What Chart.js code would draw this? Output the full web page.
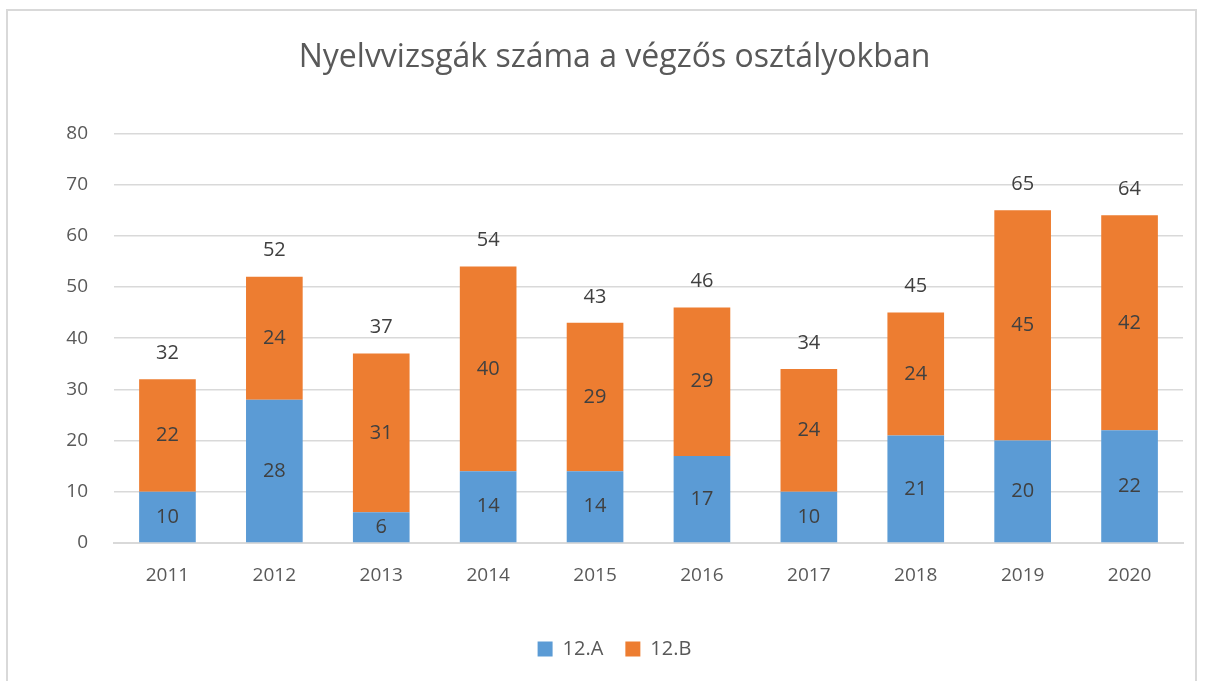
<!DOCTYPE html>
<html>
<head>
<meta charset="utf-8">
<script src="https://cdn.jsdelivr.net/npm/chart.js@4/dist/chart.umd.min.js"></script>
<style>
  html, body { margin: 0; padding: 0; background: #fff; }
  #wrap { position: relative; width: 1206px; height: 681px; overflow: hidden; }
  #frame { position: absolute; left: 6px; top: 9px; width: 1191px; height: 700px; border: 2px solid #d9d9d9; box-sizing: border-box; }
  canvas { position: absolute; left: 0; top: 0; }
</style>
</head>
<body>
<div id="wrap">
  <div id="frame"></div>
  <canvas id="chart" width="1206" height="681"></canvas>
</div>
<script>
const years = ['2011', '2012', '2013', '2014', '2015', '2016', '2017', '2018', '2019', '2020'];
const classA = [10, 28, 6, 14, 14, 17, 10, 21, 20, 22];
const classB = [22, 24, 31, 40, 29, 29, 24, 24, 45, 42];
const totals = years.map((y, i) => classA[i] + classB[i]);

const fontFamily = "'Open Sans', 'Liberation Sans', sans-serif";

// feliratok a szegmenseken és az összeg az oszlop tetején
const labelPlugin = {
    id: 'barLabels',
    afterDatasetsDraw(chart) {
        const ctx = chart.ctx;
        ctx.save();
        ctx.font = '20px ' + fontFamily;
        ctx.fillStyle = '#404040';
        ctx.textAlign = 'center';
        ctx.textBaseline = 'middle';
        chart.data.datasets.forEach((ds, di) => {
            const meta = chart.getDatasetMeta(di);
            meta.data.forEach((bar, i) => {
                ctx.fillText(String(ds.data[i]), bar.x, (bar.y + bar.base) / 2);
            });
        });
        const top = chart.getDatasetMeta(chart.data.datasets.length - 1);
        top.data.forEach((bar, i) => {
            ctx.fillText(String(totals[i]), bar.x, bar.y - 26);
        });
        ctx.restore();
    }
};

new Chart(document.getElementById('chart').getContext('2d'), {
    type: 'bar',
    data: {
        labels: years,
        datasets: [{
            label: '12.A',
            data: classA,
            backgroundColor: '#5b9bd5',
            barPercentage: 0.53,
            categoryPercentage: 1,
        }, {
            label: '12.B',
            data: classB,
            backgroundColor: '#ed7d31',
            barPercentage: 0.53,
            categoryPercentage: 1,
        }],
    },
    options: {
        responsive: false,
        animation: false,
        layout: {
            padding: { left: 46, right: 23, top: 0, bottom: 12 },
        },
        plugins: {
            title: {
                display: true,
                text: 'Nyelvvizsgák száma a végzős osztályokban',
                color: '#595959',
                font: { family: fontFamily, size: 32, weight: 'normal' },
                padding: { top: 39, bottom: 56 },
            },
            legend: {
                position: 'bottom',
                labels: {
                    color: '#595959',
                    font: { family: fontFamily, size: 20 },
                    boxWidth: 15,
                    boxHeight: 15,
                    padding: 22,
                },
            },
            tooltip: { enabled: false },
        },
        scales: {
            x: {
                stacked: true,
                grid: { display: false, drawTicks: false },
                border: { color: '#d9d9d9', width: 2 },
                ticks: { color: '#595959', font: { family: fontFamily, size: 19 }, padding: 21 },
                afterFit(scale) { scale.height = 74; },
            },
            y: {
                stacked: true,
                min: 0,
                max: 80,
                ticks: { stepSize: 10, color: '#595959', font: { family: fontFamily, size: 19 }, padding: 26 },
                grid: { color: '#d9d9d9', lineWidth: 1.5, drawTicks: false },
                border: { display: false },
                afterFit(scale) { scale.width = 68; },
            },
        },
    },
    plugins: [labelPlugin],
});
</script>
</body>
</html>
